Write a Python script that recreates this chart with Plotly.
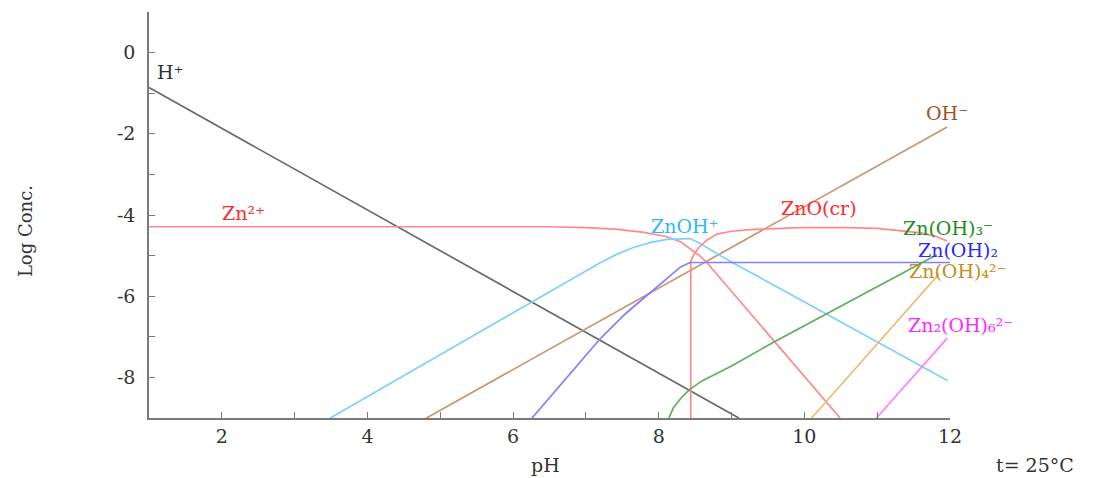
import plotly.graph_objects as go

# ---- data (pH, log concentration) ----
h_ph = [1.0, 9.1]
h_logc = [-0.86, -9.0]

oh_ph = [4.81, 11.96]
oh_logc = [-9.0, -1.83]

zn2_ph = [1.0, 6.5, 7.0, 7.4, 7.8, 8.1, 8.3, 8.45, 8.56, 8.66, 10.49]
zn2_logc = [-4.29, -4.29, -4.31, -4.35, -4.43, -4.53, -4.66, -4.85, -5.0, -5.17, -9.0]

znoh_ph = [3.49, 6.28, 6.8, 7.19, 7.42, 7.65, 7.88, 8.11, 8.43, 8.57, 8.75, 9.03, 9.94, 11.32, 11.97]
znoh_logc = [-9.0, -6.12, -5.60, -5.18, -4.97, -4.80, -4.68, -4.60, -4.58, -4.70, -4.90, -5.19, -6.08, -7.43, -8.08]

zno_ph = [8.44, 8.44, 8.48, 8.55, 8.66, 8.8, 9.0, 9.25, 9.94, 10.6, 11.0, 11.32, 11.6, 11.8, 11.96]
zno_logc = [-9.0, -5.14, -4.98, -4.80, -4.62, -4.47, -4.40, -4.36, -4.31, -4.31, -4.33, -4.38, -4.44, -4.52, -4.64]

znoh2_ph = [6.26, 7.19, 7.55, 7.88, 8.11, 8.3, 8.43, 12.0]
znoh2_logc = [-9.0, -7.06, -6.42, -5.91, -5.55, -5.28, -5.17, -5.17]

znoh3_ph = [8.14, 8.2, 8.3, 8.43, 8.6, 8.8, 9.0, 9.57, 11.32, 11.82]
znoh3_logc = [-9.0, -8.75, -8.52, -8.29, -8.08, -7.90, -7.72, -7.14, -5.46, -4.98]

znoh4_ph = [10.1, 11.85]
znoh4_logc = [-9.0, -5.45]

zn2oh6_ph = [10.99, 11.96]
zn2oh6_logc = [-9.0, -7.04]

x_ticks = list(range(1, 13))
x_ticktext = [str(v) if v % 2 == 0 else "" for v in x_ticks]
y_ticks = list(range(-9, 2))
y_ticktext = [str(v) if v % 2 == 0 else "" for v in y_ticks]

series = [
    (h_ph, h_logc, "#6a6a6a", "H+"),
    (oh_ph, oh_logc, "#c9956e", "OH-"),
    (zn2_ph, zn2_logc, "#ff8a8a", "Zn2+"),
    (znoh_ph, znoh_logc, "#7fd0ff", "ZnOH+"),
    (zno_ph, zno_logc, "#ff8a8a", "ZnO(cr)"),
    (znoh2_ph, znoh2_logc, "#7f7fff", "Zn(OH)2"),
    (znoh3_ph, znoh3_logc, "#5fae5f", "Zn(OH)3-"),
    (znoh4_ph, znoh4_logc, "#e6c07a", "Zn(OH)4 2-"),
    (zn2oh6_ph, zn2oh6_logc, "#ff80ff", "Zn2(OH)6 2-"),
]

fig = go.Figure()
for xs, ys, col, name in series:
    fig.add_trace(go.Scatter(x=xs, y=ys, mode="lines", name=name,
                             line=dict(color=col, width=1.7),
                             hoverinfo="skip"))

FONT = "DejaVu Serif, Liberation Serif, serif"
labels = [
    (1.08, -0.47, "H⁺", "#333333"),
    (1.97, -3.94, "Zn²⁺", "#ff2a2a"),
    (7.86, -4.28, "ZnOH⁺", "#2fb6ff"),
    (9.65, -3.82, "ZnO(cr)", "#ff2a2a"),
    (11.64, -1.48, "OH⁻", "#a0522d"),
    (11.33, -4.33, "Zn(OH)₃⁻", "#228b22"),
    (11.53, -4.86, "Zn(OH)₂", "#2a2aff"),
    (11.41, -5.38, "Zn(OH)₄²⁻", "#c0901c"),
    (11.40, -6.70, "Zn₂(OH)₆²⁻", "#ff2aff"),
]
for x, y, t, c in labels:
    fig.add_annotation(x=x, y=y, xref="x", yref="y", text=t, showarrow=False,
                       xanchor="left", yanchor="middle",
                       font=dict(family=FONT, size=19, color=c))

fig.add_annotation(x=-0.155, y=0.46, xref="paper", yref="paper", text="Log Conc.",
                   showarrow=False, textangle=-90, xanchor="center", yanchor="middle",
                   font=dict(family=FONT, size=18, color="#333333"))
fig.add_annotation(x=0.495, y=-0.116, xref="paper", yref="paper", text="pH",
                   showarrow=False, xanchor="center", yanchor="middle",
                   font=dict(family=FONT, size=19, color="#333333"))
fig.add_annotation(x=1.0, y=-0.116, xref="paper", yref="paper", text="t= 25°C",
                   showarrow=False, xanchor="left", yanchor="middle", xshift=44,
                   font=dict(family=FONT, size=19, color="#333333"))

fig.update_layout(
    width=1101, height=478,
    margin=dict(l=149, r=151, t=12, b=60),
    plot_bgcolor="white", paper_bgcolor="white",
    showlegend=False,
    xaxis=dict(range=[1, 12], tickvals=x_ticks, ticktext=x_ticktext,
               showline=True, linecolor="#7a7a7a", linewidth=1.6,
               ticks="inside", ticklen=6, tickcolor="#7a7a7a", tickwidth=1.4,
               showgrid=False, zeroline=False,
               tickfont=dict(family=FONT, size=19, color="#333333")),
    yaxis=dict(range=[-9, 1], tickvals=y_ticks, ticktext=y_ticktext,
               showline=True, linecolor="#7a7a7a", linewidth=1.6,
               ticks="inside", ticklen=6, tickcolor="#7a7a7a", tickwidth=1.4,
               showgrid=False, zeroline=False, ticklabelstandoff=8,
               tickfont=dict(family=FONT, size=19, color="#333333")),
)

fig.write_html("out.html")
